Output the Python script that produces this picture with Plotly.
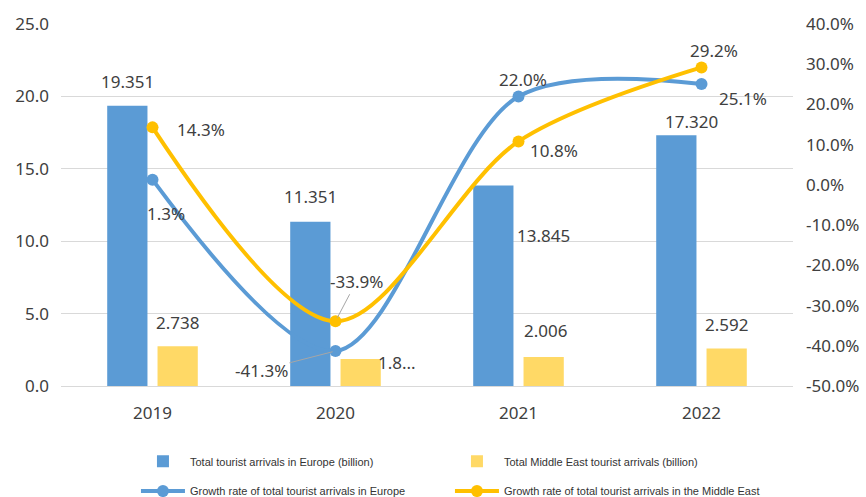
import plotly.graph_objects as go

# ---------------- data ----------------
years = ["2019", "2020", "2021", "2022"]
europe_arrivals = [19.351, 11.351, 13.845, 17.320]          # billion
middle_east_arrivals = [2.738, 1.86, 2.006, 2.592]          # billion
middle_east_labels = ["2.738", "1.8...", "2.006", "2.592"]
europe_growth = [1.3, -41.3, 22.0, 25.1]                    # %
middle_east_growth = [14.3, -33.9, 10.8, 29.2]              # %

left_ticks = [0, 5, 10, 15, 20, 25]
right_ticks = [-50, -40, -30, -20, -10, 0, 10, 20, 30, 40]

# ---------------- style ----------------
BLUE = "#5B9BD5"
LIGHT_YELLOW = "#FFD966"
YELLOW = "#FFC000"
TEXT = "#404040"
GRID = "#D9D9D9"
FONT = "Noto Sans"
FS = 17

fig = go.Figure()

fig.add_trace(go.Bar(
    x=years, y=europe_arrivals, name="Total tourist arrivals in Europe (billion)",
    marker=dict(color=BLUE, line=dict(width=0)), legend="legend",
))
fig.add_trace(go.Bar(
    x=years, y=middle_east_arrivals, name="Total Middle East tourist arrivals (billion)",
    marker=dict(color=LIGHT_YELLOW, line=dict(width=0)), legend="legend",
))
fig.add_trace(go.Scatter(
    x=years, y=europe_growth, yaxis="y2", mode="lines+markers",
    name="Growth rate of total tourist arrivals in Europe",
    line=dict(color=BLUE, width=4, shape="spline", smoothing=0.9),
    marker=dict(size=12, color=BLUE), legend="legend2",
))
fig.add_trace(go.Scatter(
    x=years, y=middle_east_growth, yaxis="y2", mode="lines+markers",
    name="Growth rate of total tourist arrivals in the Middle East",
    line=dict(color=YELLOW, width=4, shape="spline", smoothing=0.9),
    marker=dict(size=12, color=YELLOW), legend="legend2",
))

annotations = []
lbl_font = dict(family=FONT, size=FS, color=TEXT)

# bar labels: (xshift, yshift) per label; x given as category index
eu_shift = [(-25, 24), (-25, 25), (25, -50), (-10, 14)]
me_shift = [(25, 24), (61, -3), (27, 26), (25, 24)]
for i in range(len(years)):
    annotations.append(dict(x=i, y=europe_arrivals[i], xref="x", yref="y",
                            text=f"{europe_arrivals[i]:.3f}", showarrow=False,
                            xshift=eu_shift[i][0], yshift=eu_shift[i][1], font=lbl_font))
    annotations.append(dict(x=i, y=middle_east_arrivals[i], xref="x", yref="y",
                            text=middle_east_labels[i], showarrow=False,
                            xshift=me_shift[i][0], yshift=me_shift[i][1], font=lbl_font))

# growth labels
eu_g_shift = [(13, -34), None, (4, 17), (41, -15)]
me_g_shift = [(48, -2), None, (35, -9), (12, 17)]
for i in range(len(years)):
    if eu_g_shift[i] is not None:
        annotations.append(dict(x=i, y=europe_growth[i], xref="x", yref="y2",
                                text=f"{europe_growth[i]:.1f}%", showarrow=False,
                                xshift=eu_g_shift[i][0], yshift=eu_g_shift[i][1], font=lbl_font))
    if me_g_shift[i] is not None:
        annotations.append(dict(x=i, y=middle_east_growth[i], xref="x", yref="y2",
                                text=f"{middle_east_growth[i]:.1f}%", showarrow=False,
                                xshift=me_g_shift[i][0], yshift=me_g_shift[i][1], font=lbl_font))

# 2020 labels with leader lines
annotations.append(dict(x=1, y=middle_east_growth[1], xref="x", yref="y2",
                        text=f"{middle_east_growth[1]:.1f}%", showarrow=True, arrowhead=0,
                        arrowwidth=1, arrowcolor="#A6A6A6", ax=21, ay=-40, standoff=4,
                        font=lbl_font))
annotations.append(dict(x=1, y=europe_growth[1], xref="x", yref="y2",
                        text=f"{europe_growth[1]:.1f}%", showarrow=True, arrowhead=0,
                        arrowwidth=1, arrowcolor="#A6A6A6", ax=-74, ay=19, standoff=3,
                        font=lbl_font))

legend_font = dict(family="Liberation Sans", size=11, color="#333333")

fig.update_layout(
    width=866, height=497,
    margin=dict(l=61, r=73, t=24, b=111, autoexpand=False),
    paper_bgcolor="white", plot_bgcolor="white",
    barmode="group", bargap=0.45, bargroupgap=0.2,
    font=dict(family=FONT, size=FS, color=TEXT),
    xaxis=dict(type="category", range=[-0.5, len(years) - 0.5], showgrid=False,
               showline=True, linecolor=GRID, linewidth=1, ticks="",
               tickfont=dict(size=FS, color=TEXT), ticklabelstandoff=12),
    yaxis=dict(range=[0, 25], tickvals=left_ticks,
               ticktext=[f"{v:.1f}" for v in left_ticks],
               showgrid=True, gridcolor=GRID, gridwidth=1, zeroline=False,
               tickfont=dict(size=FS, color=TEXT), ticklabelstandoff=11),
    yaxis2=dict(range=[-50, 40], tickvals=right_ticks,
                ticktext=[f"{v:.1f}%" for v in right_ticks],
                overlaying="y", side="right", showgrid=False,
                zeroline=False, tickfont=dict(size=FS, color=TEXT), ticklabelstandoff=12),
    legend=dict(orientation="h", xref="container", yref="container",
                x=0.157, y=0.072, xanchor="left", yanchor="middle",
                entrywidth=255, entrywidthmode="pixels", itemwidth=44,
                font=legend_font, bgcolor="rgba(0,0,0,0)"),
    legend2=dict(orientation="h", xref="container", yref="container",
                 x=0.157, y=0.012, xanchor="left", yanchor="middle",
                 entrywidth=255, entrywidthmode="pixels", itemwidth=44,
                 font=legend_font, bgcolor="rgba(0,0,0,0)"),
    annotations=annotations,
    showlegend=True,
)

fig.write_html("out.html")
